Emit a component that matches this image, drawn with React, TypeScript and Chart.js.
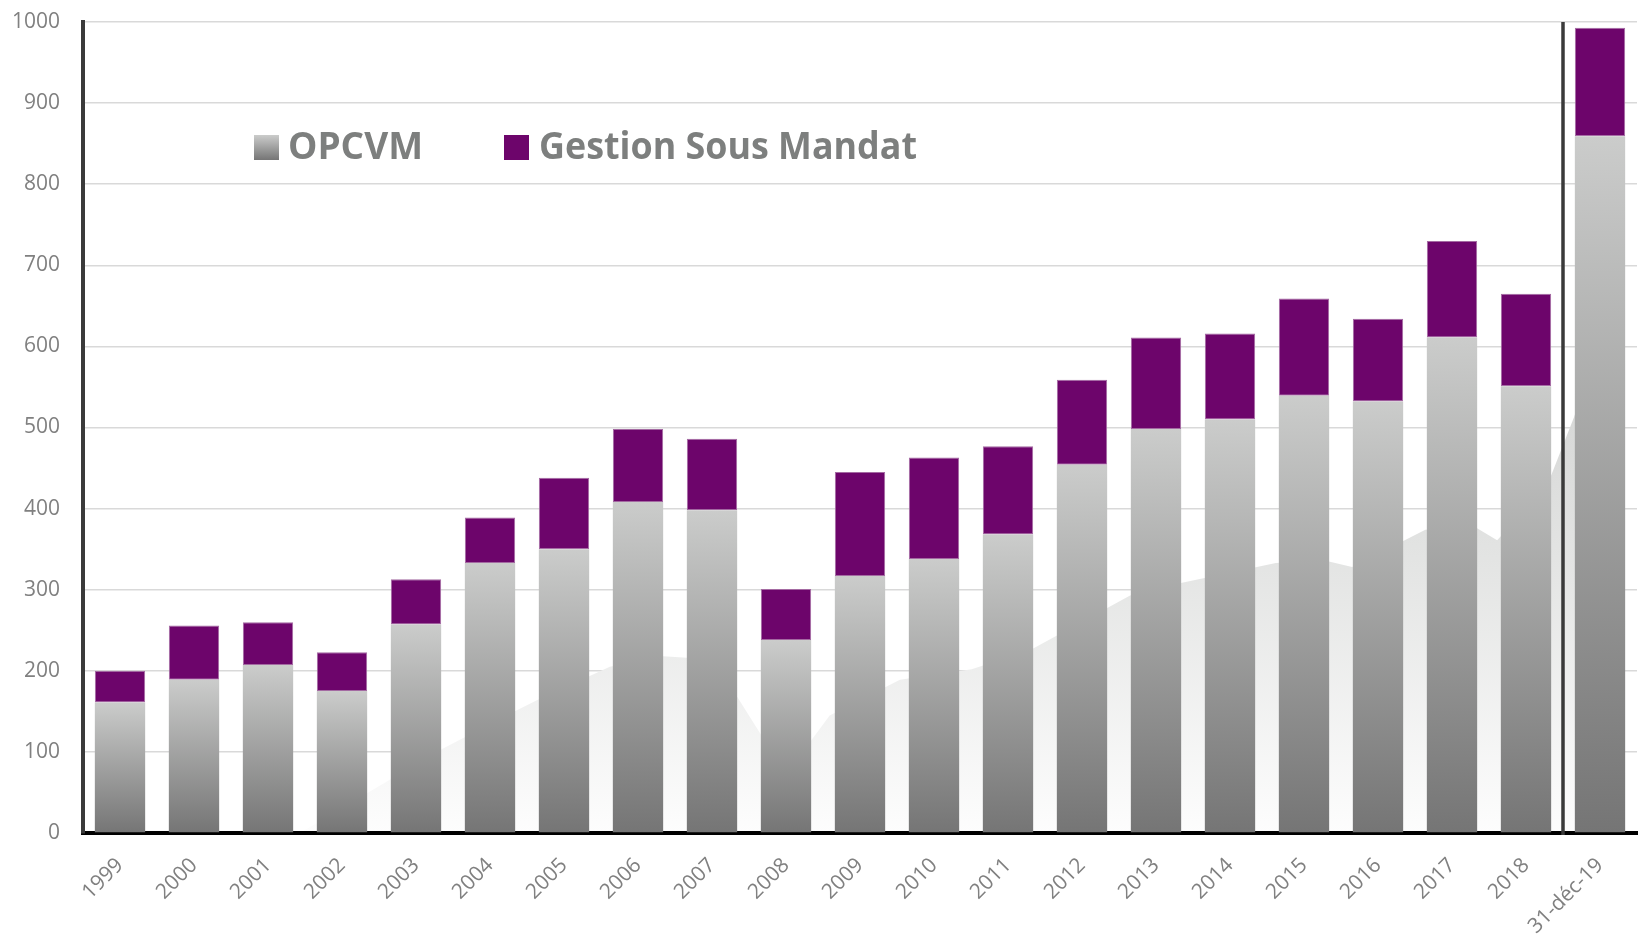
import React, { useEffect, useRef } from "react";
import { Chart, registerables } from "chart.js";
Chart.register(...registerables);

const categories = [
  "1999", "2000", "2001", "2002", "2003", "2004", "2005", "2006", "2007", "2008",
  "2009", "2010", "2011", "2012", "2013", "2014", "2015", "2016", "2017", "2018", "31-déc-19",
];
const opcvm = [161, 189, 207, 175, 257, 333, 350, 408, 398, 238, 317, 338, 368, 454, 498, 510, 539, 532, 611, 551, 859];
const gestionSousMandat = [39, 67, 53, 48, 56, 56, 88, 90, 88, 63, 128, 125, 109, 105, 113, 106, 120, 102, 119, 114, 134];
const yTicks = [0, 100, 200, 300, 400, 500, 600, 700, 800, 900, 1000];
const seriesNames = ["OPCVM", "Gestion Sous Mandat"];

// faint background shape behind the bars (x in category units, y in axis units)
const ghostX = [2.43, 4.32, 5.31, 5.64, 6.62, 7.34, 7.66, 8.34, 9.0, 9.59, 10.54, 11.51, 12.31, 13.65, 14.32, 15.62, 16.28, 16.65, 17.64, 18.26, 18.61, 19.28, 19.65, 19.95, 20.2];
const ghostY = [0, 102, 149, 164, 205, 218, 216, 168, 72, 145, 189, 202, 226, 293, 308, 333, 336, 328, 374, 380, 361, 427, 513, 600, 0];

const PURPLE = "#6d056b";
const GRAY_TOP = "#cbcccb";
const GRAY_BOTTOM = "#757575";
const TEXT_GRAY = "#808080";

const ghostPlugin = {
  id: "ghost",
  beforeDatasetsDraw(chart: any) {
    const ctx = chart.ctx;
    const area = chart.chartArea;
    const xs = chart.scales.x;
    const ys = chart.scales.y;
    const n = categories.length;
    const px = (v: number) => xs.getPixelForDecimal((v + 0.5) / n);
    ctx.save();
    ctx.beginPath();
    ctx.rect(area.left + 2, area.top, area.right - area.left, area.bottom - area.top - 2);
    ctx.clip();
    const gr = ctx.createLinearGradient(0, ys.getPixelForValue(520), 0, ys.getPixelForValue(0));
    gr.addColorStop(0, "#d7d8d7");
    gr.addColorStop(0.35, "#e3e4e3");
    gr.addColorStop(1, "#fdfdfd");
    ctx.fillStyle = gr;
    ctx.beginPath();
    ctx.moveTo(px(ghostX[0]), ys.getPixelForValue(0));
    ghostX.forEach((gx, i) => ctx.lineTo(px(gx), ys.getPixelForValue(ghostY[i])));
    ctx.lineTo(px(ghostX[ghostX.length - 1]), ys.getPixelForValue(0));
    ctx.closePath();
    ctx.fill();
    ctx.restore();
  },
};

const overlayPlugin = {
  id: "overlay",
  afterDraw(chart: any) {
    const ctx = chart.ctx;
    const area = chart.chartArea;
    const x = chart.scales.x;
    const sepX = (x.getPixelForValue(categories.length - 2) + x.getPixelForValue(categories.length - 1)) / 2;
    ctx.save();
    ctx.strokeStyle = "#3a3a3a";
    ctx.lineWidth = 3.5;
    ctx.beginPath();
    ctx.moveTo(sepX, area.top);
    ctx.lineTo(sepX, area.bottom + 2);
    ctx.stroke();

    const boxSize = 25;
    const boxTop = 135;
    ctx.font = "bold 37px 'Open Sans'";
    ctx.textBaseline = "middle";
    ctx.textAlign = "left";
    const g = ctx.createLinearGradient(0, boxTop, 0, boxTop + boxSize);
    g.addColorStop(0, GRAY_TOP);
    g.addColorStop(1, GRAY_BOTTOM);
    ctx.fillStyle = g;
    ctx.fillRect(254, boxTop, boxSize, boxSize);
    ctx.fillStyle = "#7d7f7e";
    ctx.fillText(seriesNames[0], 288, boxTop + boxSize / 2 + 1, 135);
    ctx.fillStyle = PURPLE;
    ctx.fillRect(504, boxTop, boxSize, boxSize);
    ctx.fillStyle = "#7d7f7e";
    ctx.fillText(seriesNames[1], 539, boxTop + boxSize / 2 + 1, 378);
    ctx.restore();
  },
};

export default function App() {
  const ref = useRef<HTMLCanvasElement>(null);
  useEffect(() => {
    if (!ref.current) return;
    const chart = new Chart(ref.current, {
      type: "bar",
      data: {
        labels: categories,
        datasets: [
          {
            label: seriesNames[0],
            data: opcvm,
            backgroundColor: (c: any) => {
              const ch = c.chart;
              if (!ch.chartArea || c.type !== "data") return "#a0a0a0";
              const y = ch.scales.y;
              const top = y.getPixelForValue(opcvm[c.dataIndex]);
              const bottom = y.getPixelForValue(0);
              const gr = ch.ctx.createLinearGradient(0, top, 0, bottom);
              gr.addColorStop(0, GRAY_TOP);
              gr.addColorStop(1, GRAY_BOTTOM);
              return gr;
            },
            borderWidth: 0,
            categoryPercentage: 1,
            barPercentage: 0.68,
          },
          {
            label: seriesNames[1],
            data: gestionSousMandat,
            backgroundColor: PURPLE,
            borderColor: "#a46aa2",
            borderWidth: 1,
            borderSkipped: false,
            categoryPercentage: 1,
            barPercentage: 0.68,
          },
        ],
      },
      options: {
        animation: false,
        responsive: true,
        maintainAspectRatio: false,
        layout: { padding: { top: 22, right: 2, left: 0, bottom: 0 } },
        plugins: { legend: { display: false }, tooltip: { enabled: false } },
        scales: {
          x: {
            stacked: true,
            grid: { display: false, drawTicks: false },
            border: { display: true, color: "#000000", width: 4 },
            ticks: {
              autoSkip: false,
              maxRotation: 45,
              minRotation: 45,
              padding: 20,
              color: TEXT_GRAY,
              font: { family: "'Open Sans'", size: 21 },
            },
            afterFit: (s: any) => {
              s.height = 102;
              s.paddingLeft = 0;
              s.paddingRight = 0;
            },
          },
          y: {
            stacked: true,
            min: 0,
            max: 1000,
            afterBuildTicks: (s: any) => {
              s.ticks = yTicks.map((v) => ({ value: v }));
            },
            grid: { color: "#d9d9d9", lineWidth: 1.5, drawTicks: false },
            border: { display: true, color: "#3a3a3a", width: 4 },
            ticks: {
              padding: 23,
              color: TEXT_GRAY,
              font: { family: "'Open Sans'", size: 21 },
              callback: (v: any) => String(v),
            },
            afterFit: (s: any) => {
              s.width = 83;
              s.paddingTop = 0;
              s.paddingBottom = 0;
            },
          },
        },
      },
      plugins: [ghostPlugin, overlayPlugin],
    });
    return () => chart.destroy();
  }, []);
  return (
    <div style={{ position: "fixed", left: 0, top: 0, width: 1639, height: 935, background: "#fff" }}>
      <canvas ref={ref} />
    </div>
  );
}
